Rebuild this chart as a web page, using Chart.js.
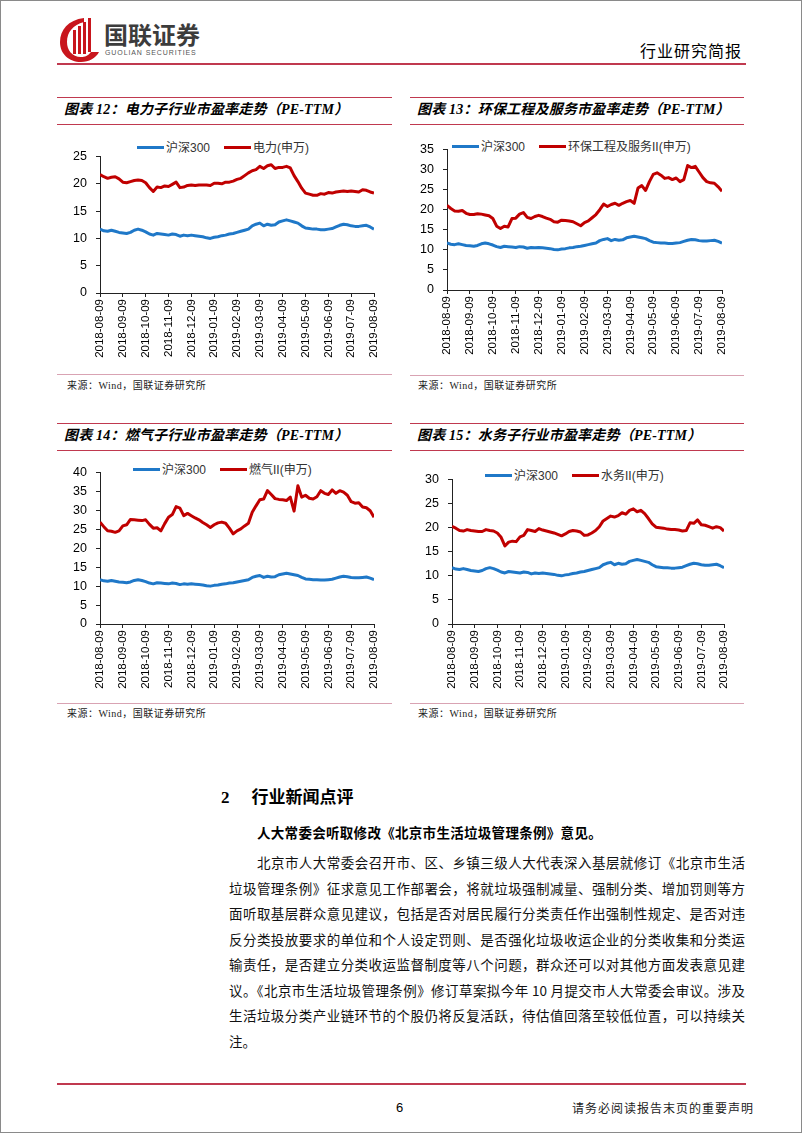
<!DOCTYPE html>
<html>
<head>
<meta charset="utf-8">
<script src="https://cdn.jsdelivr.net/npm/chart.js@4.4.0/dist/chart.umd.min.js"></script>
<style>
  body { margin: 0; background: #fff; }
  #page { position: relative; width: 802px; height: 1133px; overflow: hidden; background: #fff;
          font-family: "Noto Sans CJK SC", sans-serif; color: #000; }
  #frame { position: absolute; left: 0; top: 0; width: 800px; height: 1131px; border: 1px solid #8a8a8a; }
  .rule { position: absolute; height: 0; border-top: 1px solid #c0394f; }
  .srcrule { position: absolute; height: 0; border-top: 1px solid #d9a3b3; }
  .title { position: absolute; font: italic bold 14px "Liberation Serif", "Noto Sans CJK SC", serif;
           white-space: nowrap; letter-spacing: 0.2px; line-height: 16px; }
  .src { position: absolute; font: 10px "Liberation Serif", "Noto Sans CJK SC", serif; white-space: nowrap;
         color: #222; line-height: 12px; letter-spacing: 0.5px; }
  .leg { position: absolute; font: 12px "Liberation Sans", "Noto Sans CJK SC", sans-serif; white-space: nowrap;
         color: #333; line-height: 14px; }
  .leg i { display: inline-block; width: 27px; height: 3px; vertical-align: middle; margin: 0 2px 2px 0; }
  .leg span { margin-right: 14px; }
  canvas { position: absolute; }
  .p { position: absolute; left: 229px; width: 516px; font: 13.5px "Noto Sans CJK SC", sans-serif;
       text-align: justify; text-align-last: justify; line-height: 16px; color: #111; }
</style>
</head>
<body>
<div id="page">
  <div id="frame"></div>

  <!-- header -->
  <svg style="position:absolute;left:58px;top:16px" width="44" height="48" viewBox="0 0 44 48">
    <path d="M26 2 C10 4 2 14 2 26 C2 38 11 46 23 46 C31 46 38 42 41 36 L33 36 C30 40 27 41 23 41 C14 41 9 34 9 26 C9 16 15 9 26 6 Z" fill="#c8161d"/>
    <rect x="15" y="14" width="3" height="24" fill="#c8161d"/>
    <rect x="20" y="10" width="3" height="28" fill="#c8161d"/>
    <rect x="25" y="6" width="3" height="32" fill="#c8161d"/>
    <rect x="30" y="2" width="3" height="34" fill="#c8161d"/>
  </svg>
  <div style="position:absolute;left:104px;top:20px;font:bold 24px 'Noto Sans CJK SC';color:#3c3c3c;line-height:28px">国联证券</div>
  <div style="position:absolute;left:105px;top:49px;font:7px 'Liberation Sans';color:#555;letter-spacing:0.9px">GUOLIAN SECURITIES</div>
  <div style="position:absolute;left:640px;top:40px;font:16px 'Noto Sans CJK SC';letter-spacing:1px;line-height:20px">行业研究简报</div>
  <div class="rule" style="left:57px;top:63px;width:689px;border-top:2px solid #c0394f"></div>

  <!-- chart 12 -->
  <div class="rule" style="left:57px;top:97px;width:335px"></div>
  <div class="title" style="left:64px;top:102px">图表 12：电力子行业市盈率走势（PE-TTM）</div>
  <div class="rule" style="left:57px;top:124px;width:335px"></div>
  <div class="leg" style="left:137px;top:141px"><i style="background:#1f78c8"></i><span>沪深300</span><i style="background:#c00000"></i>电力(申万)</div>
  <canvas id="c12"></canvas>
  <div class="srcrule" style="left:57px;top:374px;width:335px"></div>
  <div class="src" style="left:67px;top:380px">来源：Wind，国联证券研究所</div>

  <!-- chart 13 -->
  <div class="rule" style="left:410px;top:97px;width:334px"></div>
  <div class="title" style="left:417px;top:102px">图表 13：环保工程及服务市盈率走势（PE-TTM）</div>
  <div class="rule" style="left:410px;top:124px;width:334px"></div>
  <div class="leg" style="left:452px;top:140px"><i style="background:#1f78c8"></i><span>沪深300</span><i style="background:#c00000"></i>环保工程及服务II(申万)</div>
  <canvas id="c13"></canvas>
  <div class="srcrule" style="left:410px;top:375px;width:334px"></div>
  <div class="src" style="left:418px;top:380px">来源：Wind，国联证券研究所</div>

  <!-- chart 14 -->
  <div class="rule" style="left:57px;top:423px;width:335px"></div>
  <div class="title" style="left:64px;top:428px">图表 14：燃气子行业市盈率走势（PE-TTM）</div>
  <div class="rule" style="left:57px;top:450px;width:335px"></div>
  <div class="leg" style="left:133px;top:463px"><i style="background:#1f78c8"></i><span>沪深300</span><i style="background:#c00000"></i>燃气II(申万)</div>
  <canvas id="c14"></canvas>
  <div class="srcrule" style="left:57px;top:703px;width:335px"></div>
  <div class="src" style="left:67px;top:708px">来源：Wind，国联证券研究所</div>

  <!-- chart 15 -->
  <div class="rule" style="left:410px;top:423px;width:334px"></div>
  <div class="title" style="left:417px;top:428px">图表 15：水务子行业市盈率走势（PE-TTM）</div>
  <div class="rule" style="left:410px;top:450px;width:334px"></div>
  <div class="leg" style="left:485px;top:469px"><i style="background:#1f78c8"></i><span>沪深300</span><i style="background:#c00000"></i>水务II(申万)</div>
  <canvas id="c15"></canvas>
  <div class="srcrule" style="left:410px;top:703px;width:334px"></div>
  <div class="src" style="left:418px;top:708px">来源：Wind，国联证券研究所</div>

  <!-- section text -->
  <div style="position:absolute;left:221px;top:786px;font:bold 17px 'Liberation Serif','Noto Sans CJK SC';line-height:24px">2<span style="display:inline-block;width:22px"></span>行业新闻点评</div>
  <div style="position:absolute;left:257px;top:823px;font:bold 13.5px 'Noto Sans CJK SC';line-height:18px;letter-spacing:0.3px">人大常委会听取修改《北京市生活垃圾管理条例》意见。</div>
  <div class="p" style="top:854px;left:257px;width:488px">北京市人大常委会召开市、区、乡镇三级人大代表深入基层就修订《北京市生活</div>
  <div class="p" style="top:880px">垃圾管理条例》征求意见工作部署会，将就垃圾强制减量、强制分类、增加罚则等方</div>
  <div class="p" style="top:905px">面听取基层群众意见建议，包括是否对居民履行分类责任作出强制性规定、是否对违</div>
  <div class="p" style="top:931px">反分类投放要求的单位和个人设定罚则、是否强化垃圾收运企业的分类收集和分类运</div>
  <div class="p" style="top:956px">输责任，是否建立分类收运监督制度等八个问题，群众还可以对其他方面发表意见建</div>
  <div class="p" style="top:982px">议。《北京市生活垃圾管理条例》修订草案拟今年 10 月提交市人大常委会审议。涉及</div>
  <div class="p" style="top:1007px">生活垃圾分类产业链环节的个股仍将反复活跃，待估值回落至较低位置，可以持续关</div>
  <div class="p" style="top:1033px;text-align:left;text-align-last:left">注。</div>

  <!-- footer -->
  <div class="rule" style="left:57px;top:1083px;width:689px;border-top:2px solid #c0394f"></div>
  <div style="position:absolute;left:396px;top:1100px;font:13px 'Liberation Sans';line-height:16px">6</div>
  <div style="position:absolute;left:572px;top:1100px;font:12px 'Noto Sans CJK SC';letter-spacing:1px;line-height:16px;color:#222">请务必阅读报告末页的重要声明</div>
</div>

<script>
// x axis: 6 samples per month, ticks on the 9th of each month
const MONTH_TICKS = ['2018-08-09', '2018-09-09', '2018-10-09', '2018-11-09', '2018-12-09', '2019-01-09',
  '2019-02-09', '2019-03-09', '2019-04-09', '2019-05-09', '2019-06-09', '2019-07-09', '2019-08-09'];
const PTS_PER_MONTH = 6;

// PE-TTM readings
const HS300_PE = [11.7, 11.4, 11.3, 11.5, 11.3, 11.1, 11.0, 10.9, 11.1, 11.5, 11.7, 11.5,
  11.2, 10.8, 10.6, 10.9, 10.8, 10.7, 10.6, 10.8, 10.7, 10.4, 10.6, 10.5,
  10.6, 10.5, 10.4, 10.3, 10.1, 10.0, 10.2, 10.3, 10.5, 10.6, 10.8, 10.9,
  11.1, 11.3, 11.5, 11.7, 12.3, 12.6, 12.8, 12.3, 12.6, 12.4, 12.5, 13.0,
  13.2, 13.4, 13.2, 13.0, 12.8, 12.3, 11.9, 11.8, 11.7, 11.7, 11.6, 11.6,
  11.7, 11.8, 12.1, 12.4, 12.6, 12.5, 12.3, 12.2, 12.2, 12.3, 12.4, 12.1, 11.7];

const POWER_PE = [21.7, 21.3, 21.0, 21.2, 21.3, 20.9, 20.3, 20.2, 20.4, 20.6, 20.7, 20.6,
  20.2, 19.3, 18.6, 19.4, 19.3, 19.6, 19.5, 19.9, 20.3, 19.3, 19.4, 19.7,
  19.8, 19.7, 19.8, 19.8, 19.8, 19.7, 20.1, 20.1, 20.0, 20.3, 20.3, 20.5,
  20.8, 21.0, 21.5, 22.0, 22.4, 22.6, 23.2, 22.8, 23.3, 23.5, 22.8, 23.0,
  23.0, 23.2, 22.9, 21.5, 20.4, 19.2, 18.3, 18.1, 17.9, 17.9, 18.2, 18.1,
  18.4, 18.3, 18.5, 18.6, 18.7, 18.6, 18.7, 18.6, 18.5, 18.9, 18.8, 18.5, 18.3];

const ENV_PE = [21.1, 20.3, 19.7, 19.6, 19.8, 19.1, 18.8, 18.8, 19.0, 18.9, 18.7, 18.5,
  17.8, 15.9, 15.3, 15.9, 15.7, 17.8, 17.9, 18.9, 19.3, 18.1, 17.8, 18.3,
  18.6, 18.3, 17.9, 17.6, 17.0, 16.9, 17.4, 17.3, 17.2, 17.0, 16.5, 16.0,
  16.8, 17.2, 18.0, 18.8, 20.0, 21.4, 20.8, 21.3, 21.6, 21.1, 21.6, 22.0,
  22.3, 21.6, 25.4, 26.0, 24.8, 27.0, 28.8, 29.2, 28.6, 27.8, 28.0, 27.5,
  27.9, 27.0, 27.5, 31.0, 30.5, 30.8, 29.4, 28.0, 27.0, 26.7, 26.6, 25.7, 24.6];

const GAS_PE = [26.9, 25.7, 24.6, 24.5, 24.2, 24.6, 25.9, 26.2, 27.6, 27.5, 27.4, 27.3,
  27.5, 26.3, 25.3, 25.4, 24.6, 26.5, 28.2, 28.9, 31.0, 30.6, 28.6, 29.2,
  28.6, 28.0, 27.5, 26.8, 26.2, 25.5, 26.2, 26.7, 26.9, 26.6, 25.3, 23.8,
  24.6, 25.1, 25.9, 26.6, 29.5, 31.2, 32.8, 33.0, 35.2, 34.2, 33.1, 32.9,
  32.8, 32.6, 33.5, 29.8, 36.5, 33.5, 34.0, 33.2, 33.0, 33.6, 35.2, 34.5,
  34.2, 35.4, 34.5, 35.2, 34.8, 34.0, 32.3, 31.9, 32.0, 30.9, 30.7, 29.9, 28.2];

const WATER_PE = [20.3, 19.9, 19.4, 19.3, 19.6, 19.4, 19.3, 19.2, 19.2, 19.6, 19.4, 19.3,
  18.9, 18.0, 16.2, 17.0, 17.2, 17.1, 18.1, 18.4, 19.6, 19.4, 19.2, 19.8,
  19.5, 19.3, 19.1, 18.9, 18.6, 18.3, 18.7, 19.2, 19.4, 19.3, 19.1, 18.4,
  18.5, 18.9, 19.4, 20.2, 21.4, 21.9, 22.4, 22.2, 22.5, 23.1, 22.8, 23.6,
  23.9, 23.3, 23.6, 22.9, 21.9, 20.8, 20.1, 20.0, 19.9, 19.7, 19.6, 19.6,
  19.5, 19.3, 19.4, 21.0, 20.9, 21.6, 20.6, 20.5, 20.2, 19.9, 20.2, 20.0, 19.3];

const BLUE = '#1f78c8';
const RED = '#c00000';

Chart.defaults.font.family = '"Liberation Sans", Arial, sans-serif';
Chart.defaults.color = '#000';

function drawPeChart(id, box, redVals, redName, yMax) {
  const canvas = document.getElementById(id);
  const padL = 45, padR = 18, padT = 13, axisH = 72;
  canvas.width = box.right - box.left + padL + padR;
  canvas.height = box.bottom - box.top + padT + axisH;
  canvas.style.left = (box.left - padL) + 'px';
  canvas.style.top = (box.top - padT) + 'px';
  const toPoints = vals => vals.map((v, i) => ({ x: i, y: v }));

  new Chart(canvas, {
    type: 'line',
    data: {
      datasets: [
        { label: '沪深300', data: toPoints(HS300_PE), borderColor: BLUE, backgroundColor: BLUE },
        { label: redName, data: toPoints(redVals), borderColor: RED, backgroundColor: RED }
      ]
    },
    options: {
      responsive: false,
      animation: false,
      devicePixelRatio: 1,
      layout: { padding: { top: padT, right: padR, left: 0, bottom: 0 } },
      elements: { point: { radius: 0 }, line: { borderWidth: 3, tension: 0, borderJoinStyle: 'round' } },
      plugins: { legend: { display: false }, tooltip: { enabled: false } },
      scales: {
        x: {
          type: 'linear',
          min: 0,
          max: (MONTH_TICKS.length - 1) * PTS_PER_MONTH,
          afterBuildTicks: s => { s.ticks = MONTH_TICKS.map((_, k) => ({ value: k * PTS_PER_MONTH })); },
          afterFit: s => { s.height = axisH; },
          ticks: {
            autoSkip: false, maxRotation: 90, minRotation: 90, padding: 2,
            font: { size: 11.5 },
            callback: v => MONTH_TICKS[Math.round(v / PTS_PER_MONTH)]
          },
          grid: { drawOnChartArea: false, tickLength: 4, color: '#222' },
          border: { color: '#222' }
        },
        y: {
          min: 0,
          max: yMax,
          afterFit: s => { s.width = padL; },
          ticks: { stepSize: 5, padding: 9, font: { size: 12.5 } },
          grid: { drawOnChartArea: false, tickLength: 4, color: '#222' },
          border: { color: '#222' }
        }
      }
    }
  });
}

drawPeChart('c12', { left: 100, right: 374, top: 153, bottom: 293 }, POWER_PE, '电力(申万)', 25);
drawPeChart('c13', { left: 447, right: 722, top: 146, bottom: 290 }, ENV_PE, '环保工程及服务II(申万)', 35);
drawPeChart('c14', { left: 100, right: 374, top: 469, bottom: 624 }, GAS_PE, '燃气II(申万)', 40);
drawPeChart('c15', { left: 452, right: 724, top: 476, bottom: 624 }, WATER_PE, '水务II(申万)', 30);
</script>
</body>
</html>
